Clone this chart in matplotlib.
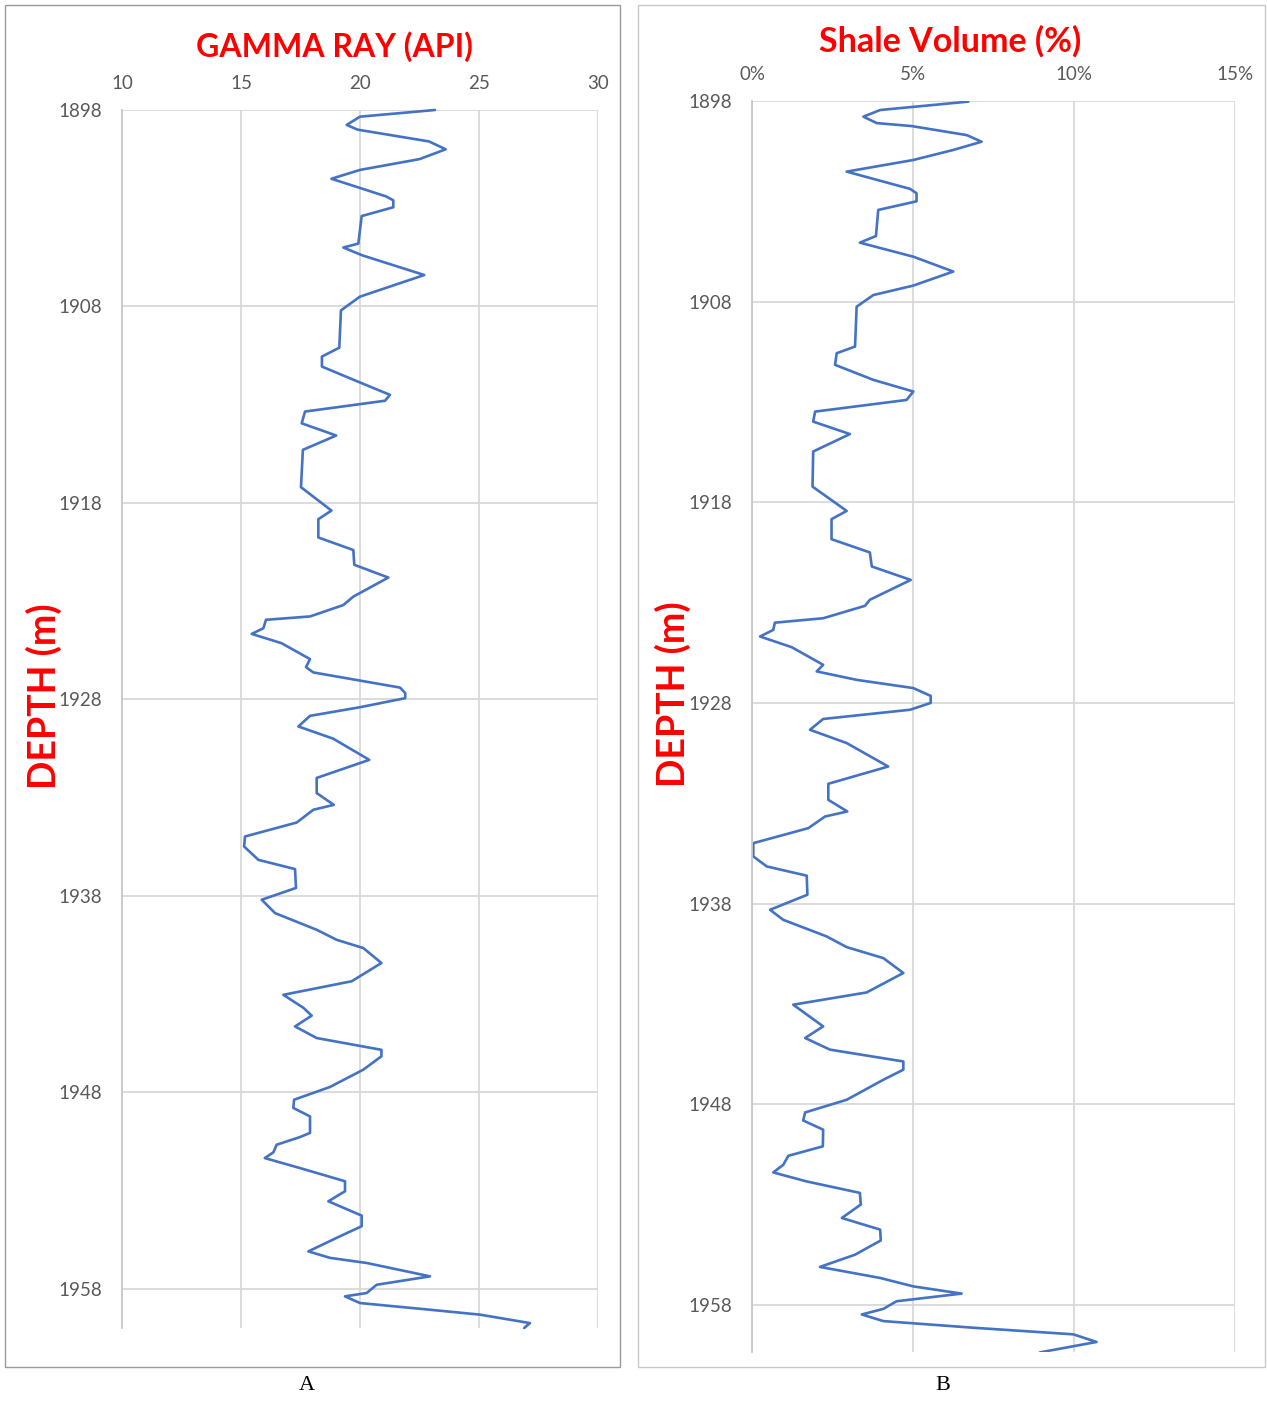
import matplotlib
matplotlib.use("Agg")
import matplotlib.pyplot as plt
from matplotlib.patches import Rectangle
from matplotlib.ticker import FuncFormatter

# gamma ray log (depth in m, GR in API)
gr_depth = [1898.0, 1898.34, 1898.76, 1899.0, 1899.6, 1900.0, 1900.5, 1901.05,
            1901.5, 1902.4, 1902.6, 1902.95, 1903.4, 1904.8, 1905.0, 1905.4,
            1906.4, 1907.5, 1908.2, 1910.1, 1910.55, 1911.06, 1911.8, 1912.5,
            1912.8, 1913.35, 1913.95, 1914.57, 1915.3, 1917.2, 1918.39, 1918.83,
            1919.76, 1920.4, 1921.15, 1921.8, 1922.77, 1923.2, 1923.78, 1923.95,
            1924.38, 1924.67, 1925.14, 1925.95, 1926.36, 1926.63, 1927.4, 1927.68,
            1927.94, 1928.4, 1928.84, 1929.38, 1930.0, 1931.08, 1932.0, 1932.77,
            1933.37, 1933.62, 1934.27, 1934.98, 1935.49, 1936.17, 1936.64, 1937.6,
            1938.2, 1938.88, 1939.73, 1940.24, 1940.66, 1941.42, 1942.35, 1943.04,
            1943.7, 1944.1, 1944.65, 1945.24, 1945.84, 1946.17, 1946.85, 1947.73,
            1948.38, 1948.8, 1949.23, 1950.07, 1950.28, 1950.67, 1951.06, 1951.35,
            1951.86, 1952.53, 1953.04, 1953.55, 1954.28, 1954.82, 1955.33, 1956.1,
            1956.43, 1956.69, 1957.37, 1957.8, 1958.22, 1958.39, 1958.73, 1959.07,
            1959.32, 1959.75, 1960.0]
gr_value = [23.15, 20.0, 19.44, 19.9, 22.9, 23.6, 22.5, 20.0,
            18.8, 21.1, 21.4, 21.4, 20.07, 19.93, 19.3, 20.1,
            22.7, 20.0, 19.2, 19.13, 18.4, 18.4, 19.86, 21.26,
            21.05, 17.69, 17.55, 19.0, 17.6, 17.52, 18.8, 18.25,
            18.25, 19.72, 19.76, 21.19, 19.72, 19.3, 17.9, 16.05,
            15.94, 15.45, 16.7, 17.9, 17.73, 18.04, 21.68, 21.9,
            21.9, 20.0, 17.9, 17.41, 18.87, 20.39, 18.18, 18.18,
            18.9, 18.04, 17.34, 15.17, 15.13, 15.73, 17.27, 17.31,
            15.87, 16.43, 18.18, 19.02, 20.14, 20.9, 19.65, 16.78,
            17.62, 17.97, 17.27, 18.18, 20.9, 20.9, 20.14, 18.74,
            17.23, 17.2, 17.9, 17.9, 17.48, 16.5, 16.36, 16.0,
            17.48, 19.37, 19.37, 18.67, 20.07, 20.07, 19.16, 17.83,
            18.74, 20.28, 22.94, 20.7, 20.28, 19.37, 20.0, 22.94,
            25.04, 27.14, 26.9]

# shale volume log (depth in m, Vsh in %)
sv_depth = [1898.03, 1898.45, 1898.78, 1899.1, 1899.25, 1899.7, 1900.03, 1900.44,
            1900.94, 1901.52, 1902.38, 1902.6, 1903.0, 1903.43, 1904.73, 1905.06,
            1905.76, 1906.5, 1907.2, 1907.67, 1908.25, 1910.24, 1910.57, 1911.15,
            1911.9, 1912.48, 1912.9, 1913.48, 1913.98, 1914.6, 1915.47, 1917.22,
            1918.43, 1918.84, 1919.84, 1920.5, 1921.2, 1921.87, 1922.86, 1923.16,
            1923.78, 1924.0, 1924.36, 1924.69, 1925.22, 1926.1, 1926.43, 1926.85,
            1927.26, 1927.65, 1928.0, 1928.34, 1928.8, 1929.34, 1930.0, 1931.17,
            1932.03, 1932.83, 1933.41, 1933.66, 1934.24, 1934.99, 1935.65, 1936.15,
            1936.61, 1937.56, 1938.31, 1938.81, 1939.64, 1940.17, 1940.72, 1941.46,
            1942.43, 1943.04, 1944.12, 1944.7, 1945.28, 1945.87, 1946.28, 1946.78,
            1947.78, 1948.41, 1948.81, 1949.27, 1950.1, 1950.57, 1951.02, 1951.4,
            1951.85, 1952.42, 1953.0, 1953.67, 1954.25, 1954.79, 1955.5, 1956.11,
            1956.66, 1957.08, 1957.44, 1957.82, 1958.2, 1958.48, 1958.81, 1959.14,
            1959.47, 1959.85, 1960.37]
sv_value = [6.72, 3.98, 3.46, 3.87, 4.96, 6.67, 7.13, 6.25,
            5.01, 2.94, 4.91, 5.11, 5.11, 3.92, 3.85, 3.35,
            5.01, 6.25, 5.01, 3.77, 3.25, 3.2, 2.63, 2.58,
            3.77, 5.01, 4.8, 1.96, 1.9, 3.04, 1.9, 1.88,
            2.94, 2.47, 2.47, 3.66, 3.72, 4.93, 3.66, 3.51,
            2.21, 0.71, 0.66, 0.25, 1.23, 2.21, 2.01, 3.25,
            5.01, 5.55, 5.55, 4.91, 2.21, 1.8, 2.94, 4.23,
            2.37, 2.37, 2.96, 2.27, 1.75, 0.04, 0.04, 0.46,
            1.7, 1.72, 0.56, 0.97, 2.32, 2.94, 4.08, 4.7,
            3.56, 1.28, 2.21, 1.65, 2.42, 4.7, 4.7, 4.08,
            2.94, 1.65, 1.59, 2.21, 2.2, 1.13, 0.97, 0.66,
            1.7, 3.35, 3.38, 2.79, 3.98, 4.0, 3.2, 2.11,
            3.98, 5.01, 6.51, 4.49, 4.08, 3.41, 4.08, 6.87,
            9.98, 10.7, 8.94]

depth_ticks = [1898, 1908, 1918, 1928, 1938, 1948, 1958]
gr_ticks = [10, 15, 20, 25, 30]
sv_ticks = [0, 5, 10, 15]

W, H = 1267, 1403
LINE = "#4472C4"
GRID = "#d9d9d9"
TICK = "#595959"
RED = "#ff0000"

plt.rcParams["font.family"] = ["Lato", "DejaVu Sans"]

fig = plt.figure(figsize=(W / 100, H / 100), dpi=100)


def px_box(x0, y0, x1, y1):
    # pixel box (top-left origin) -> figure fraction [l, b, w, h]
    return [x0 / W, 1 - y1 / H, (x1 - x0) / W, (y1 - y0) / H]


def style_log_axes(ax, xticks, ylim, xfmt=None):
    ax.set_xlim(xticks[0], xticks[-1])
    ax.set_ylim(*ylim)
    ax.set_xticks(xticks)
    ax.set_yticks(depth_ticks)
    if xfmt is not None:
        ax.xaxis.set_major_formatter(xfmt)
    ax.xaxis.tick_top()
    ax.tick_params(axis="both", length=0, labelsize=13.5, labelcolor=TICK)
    ax.tick_params(axis="x", pad=13)
    ax.tick_params(axis="y", pad=14)
    for s in ["top", "right", "bottom"]:
        ax.spines[s].set_visible(False)
    ax.spines["left"].set_color("#c8c8c8")
    ax.spines["left"].set_linewidth(1.3)
    ax.grid(True, color=GRID, linewidth=1.3)
    ax.set_axisbelow(True)


# panel frames
fig.patches.append(Rectangle((5 / W, 1 - 1367 / H), 615 / W, 1362 / H,
                             transform=fig.transFigure, fill=False,
                             edgecolor="#9a9a9a", linewidth=1.0))
fig.patches.append(Rectangle((638 / W, 1 - 1367 / H), 627 / W, 1362 / H,
                             transform=fig.transFigure, fill=False,
                             edgecolor="#c8c8c8", linewidth=1.0))

# A: gamma ray
ax1 = fig.add_axes(px_box(122, 110, 598, 1328))
style_log_axes(ax1, gr_ticks, (1960.0, 1898))
ax1.plot(gr_value, gr_depth, color=LINE, linewidth=1.9,
         solid_joinstyle="round", solid_capstyle="round", clip_on=False)
fig.text(334 / W, 1 - 47 / H, "GAMMA RAY (API)", color=RED, fontsize=23,
         fontweight="bold", ha="center", va="center")
fig.text(44 / W, 1 - 696 / H, "DEPTH (m)", color=RED, fontsize=27,
         fontweight="bold", ha="center", va="center", rotation=90)

# B: shale volume
ax2 = fig.add_axes(px_box(752, 101, 1235, 1352))
style_log_axes(ax2, sv_ticks, (1960.35, 1898),
               FuncFormatter(lambda v, p: "%d%%" % v))
ax2.plot(sv_value, sv_depth, color=LINE, linewidth=1.9,
         solid_joinstyle="round", solid_capstyle="round")
fig.text(950 / W, 1 - 41 / H, "Shale Volume (%)", color=RED, fontsize=24.5,
         fontweight="bold", ha="center", va="center")
fig.text(673 / W, 1 - 694 / H, "DEPTH (m)", color=RED, fontsize=27,
         fontweight="bold", ha="center", va="center", rotation=90)

# panel letters
fig.text(307 / W, 1 - 1385 / H, "A", fontsize=16, family="Liberation Serif",
         ha="center", va="center")
fig.text(943 / W, 1 - 1385 / H, "B", fontsize=16, family="Liberation Serif",
         ha="center", va="center")

fig.savefig("out.png", dpi=100)
